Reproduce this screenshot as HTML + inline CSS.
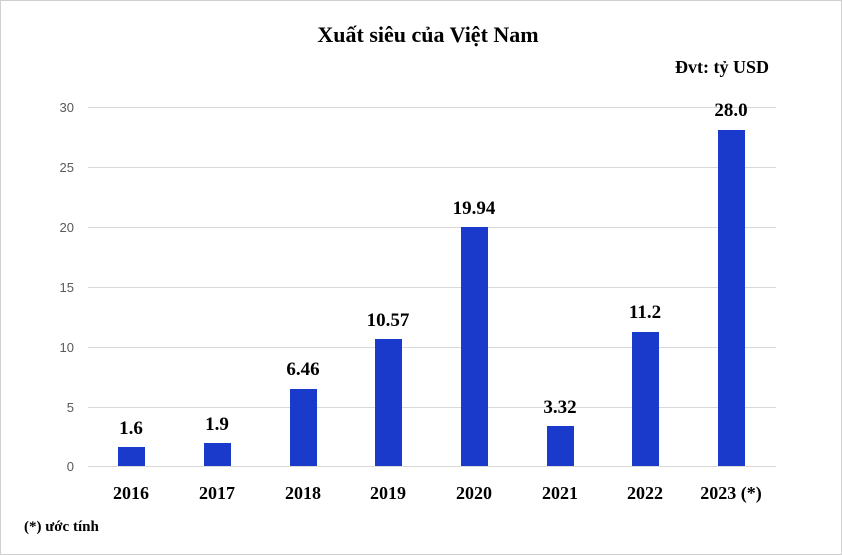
<!DOCTYPE html>
<html><head><meta charset="utf-8"><style>
html,body{margin:0;padding:0;background:#fff;}
svg{display:block;}
</style></head><body>
<svg width="842" height="555" viewBox="0 0 842 555" xmlns="http://www.w3.org/2000/svg">
<rect x="0.5" y="0.5" width="841" height="554" fill="#fff" stroke="#d0d0d0"/>
<text x="428" y="42" text-anchor="middle" font-family="Liberation Serif, serif" font-weight="bold" font-size="22">Xuất siêu của Việt Nam</text>
<text x="769" y="73" text-anchor="end" font-family="Liberation Serif, serif" font-weight="bold" font-size="18">Đvt: tỷ USD</text>
<g stroke="#d9d9d9" stroke-width="1">
<line x1="88" x2="776" y1="107.5" y2="107.5"/>
<line x1="88" x2="776" y1="167.5" y2="167.5"/>
<line x1="88" x2="776" y1="227.5" y2="227.5"/>
<line x1="88" x2="776" y1="287.5" y2="287.5"/>
<line x1="88" x2="776" y1="347.5" y2="347.5"/>
<line x1="88" x2="776" y1="407.5" y2="407.5"/>
<line x1="88" x2="776" y1="466.5" y2="466.5"/>
</g>
<g font-family="Liberation Sans, sans-serif" font-size="13" fill="#595959" text-anchor="end">
<text x="74" y="112">30</text><text x="74" y="172">25</text><text x="74" y="232">20</text>
<text x="74" y="292">15</text><text x="74" y="352">10</text><text x="74" y="412">5</text><text x="74" y="471">0</text>
</g>
<g fill="#1a3acc">
<rect x="118" y="447" width="27" height="19"/>
<rect x="204" y="443" width="27" height="23"/>
<rect x="290" y="389" width="27" height="77"/>
<rect x="375" y="339" width="27" height="127"/>
<rect x="461" y="227" width="27" height="239"/>
<rect x="547" y="426" width="27" height="40"/>
<rect x="632" y="332" width="27" height="134"/>
<rect x="718" y="130" width="27" height="336"/>
</g>
<g font-family="Liberation Serif, serif" font-weight="bold" font-size="19" text-anchor="middle">
<text x="131" y="434">1.6</text>
<text x="217" y="430">1.9</text>
<text x="303" y="375">6.46</text>
<text x="388" y="326">10.57</text>
<text x="474" y="214">19.94</text>
<text x="560" y="413">3.32</text>
<text x="645" y="318">11.2</text>
<text x="731" y="116">28.0</text>
</g>
<g font-family="Liberation Serif, serif" font-weight="bold" font-size="18" text-anchor="middle">
<text x="131" y="499">2016</text>
<text x="217" y="499">2017</text>
<text x="303" y="499">2018</text>
<text x="388" y="499">2019</text>
<text x="474" y="499">2020</text>
<text x="560" y="499">2021</text>
<text x="645" y="499">2022</text>
<text x="731" y="499">2023 (*)</text>
</g>
<text x="24" y="531" font-family="Liberation Serif, serif" font-weight="bold" font-size="15">(*) ước tính</text>
</svg>
</body></html>
